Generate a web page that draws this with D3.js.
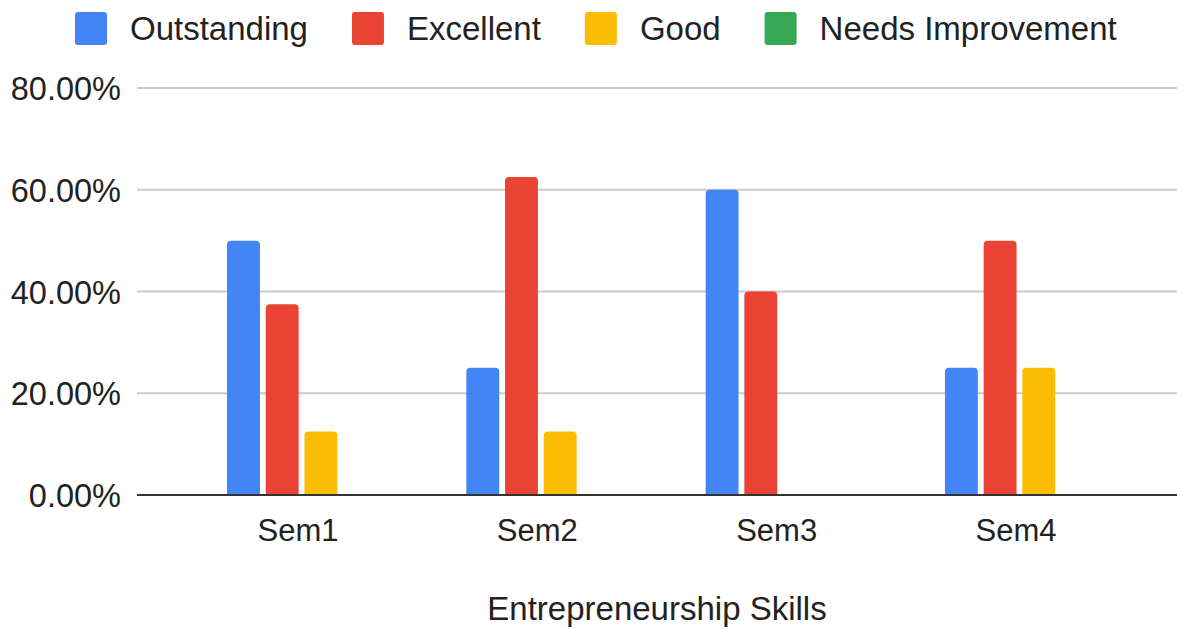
<!DOCTYPE html>
<html>
<head>
<meta charset="utf-8">
<script src="https://cdn.jsdelivr.net/npm/d3@7"></script>
<style>
  html, body { margin: 0; padding: 0; background: #fff; }
  svg { display: block; font-family: Arial, "Liberation Sans", sans-serif; }
</style>
</head>
<body>
<svg id="chart" width="1177" height="629"></svg>
<script>
const categories = ["Sem1", "Sem2", "Sem3", "Sem4"];
const seriesNames = ["Outstanding", "Excellent", "Good", "Needs Improvement"];
const outstanding = [0.50, 0.25, 0.60, 0.25];
const excellent = [0.375, 0.625, 0.40, 0.50];
const good = [0.125, 0.125, 0.0, 0.25];
const needsImprovement = [0.0, 0.0, 0.0, 0.0];
const colors = ["#4285F4", "#EA4335", "#FBBC04", "#34A853"];
const yTicks = [0, 0.2, 0.4, 0.6, 0.8];
const xTitle = "Entrepreneurship Skills";

const seriesValues = [outstanding, excellent, good, needsImprovement];

const svg = d3.select("#chart");
const plotLeft = 137, plotRight = 1177, plotTop = 88, plotBottom = 495;
const textColor = "#222";

const y = d3.scaleLinear().domain([0, 0.8]).range([plotBottom, plotTop]);
const x0 = d3.scaleBand().domain(categories).range([plotLeft, plotRight])
  .paddingInner(0).paddingOuter(0.173);
const groupW = 149;
const x1 = d3.scaleBand().domain(seriesNames).range([0, groupW]).paddingInner(0.15).paddingOuter(0);
const groupOffset = (x0.bandwidth() - groupW) / 2 + 3.5;

// gridlines
const fmt = d3.format(".2%");
svg.append("g").selectAll("line").data(yTicks.filter(d => d > 0)).join("line")
  .attr("x1", plotLeft).attr("x2", plotRight)
  .attr("y1", d => y(d)).attr("y2", d => y(d))
  .attr("stroke", "#cccccc").attr("stroke-width", 2);

// y axis labels
const yAxis = d3.axisLeft(y).tickValues(yTicks).tickFormat(fmt).tickSize(0).tickPadding(0);
const ya = svg.append("g").attr("transform", `translate(${plotLeft - 16},0)`).call(yAxis);
ya.select(".domain").remove();
ya.selectAll("text").attr("font-size", 32.5).attr("fill", textColor)
  .attr("font-family", "Arial, 'Liberation Sans', sans-serif").attr("dy", "0.36em");

// bars
const rounded = (x, yTop, w, h, r) => {
  if (h <= 0) return "";
  r = Math.min(r, h, w / 2);
  return `M${x},${yTop + h} L${x},${yTop + r} Q${x},${yTop} ${x + r},${yTop} L${x + w - r},${yTop} Q${x + w},${yTop} ${x + w},${yTop + r} L${x + w},${yTop + h} Z`;
};
const barData = [];
categories.forEach((c, i) => {
  seriesNames.forEach((s, j) => {
    barData.push({ c, s, j, v: seriesValues[j][i] });
  });
});
svg.append("g").selectAll("path").data(barData).join("path")
  .attr("d", d => {
    const bx = x0(d.c) + groupOffset + x1(d.s);
    const top = y(d.v);
    return rounded(bx, top, x1.bandwidth(), plotBottom - top, 4);
  })
  .attr("fill", d => colors[d.j]);

// baseline
svg.append("line").attr("x1", plotLeft).attr("x2", plotRight)
  .attr("y1", plotBottom).attr("y2", plotBottom)
  .attr("stroke", "#333").attr("stroke-width", 2);

// x axis labels
const xAxis = d3.axisBottom(x0).tickSize(0).tickPadding(0);
const xa = svg.append("g").attr("transform", `translate(0,${plotBottom})`).call(xAxis);
xa.select(".domain").remove();
xa.selectAll("text").attr("font-size", 31).attr("fill", textColor)
  .attr("font-family", "Arial, 'Liberation Sans', sans-serif")
  .attr("dy", null).attr("y", 46);

// x title
svg.append("text").attr("x", (plotLeft + plotRight) / 2).attr("y", 620)
  .attr("text-anchor", "middle").attr("font-size", 33).attr("fill", textColor)
  .text(xTitle);

// legend
const legend = svg.append("g");
let lx = 75;
seriesNames.forEach((s, j) => {
  legend.append("rect").attr("x", lx).attr("y", 12).attr("width", 32).attr("height", 33)
    .attr("rx", 3).attr("fill", colors[j]);
  const t = legend.append("text").attr("x", lx + 55).attr("y", 40)
    .attr("font-size", 33).attr("fill", textColor).text(s);
  const w = t.node().getComputedTextLength();
  lx = lx + 55 + w + 44;
});
</script>
</body>
</html>
